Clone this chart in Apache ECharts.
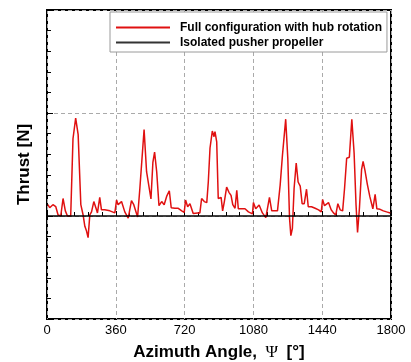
<!DOCTYPE html>
<html>
<head>
<meta charset="utf-8">
<script src="https://cdn.jsdelivr.net/npm/echarts@6/dist/echarts.min.js"></script>
<style>
html,body{margin:0;padding:0;background:#fff;}
#chart{width:411px;height:362px;}
</style>
</head>
<body>
<div id="chart"></div>
<script>
// Azimuth angle (deg) for the full configuration series
var fullAngle = [5,14,31,46,58,72,84,96,107,124,136,150,163,177,189,198,206,215,224,233,245,259,264,276,285,302,329,355,364,372,390,407,425,442,454,463,474,486,508,521,544,554,563,574,586,600,613,626,640,650,669,687,705,718,725,736,748,765,774,788,800,809,823,836,844,853,865,874,879,888,896,905,911,919,928,940,952,963,972,984,993,1001,1019,1036,1054,1075,1080,1092,1110,1127,1145,1164,1176,1194,1206,1220,1232,1249,1260,1269,1276,1284,1293,1304,1314,1325,1335,1346,1358,1367,1384,1403,1421,1435,1442,1452,1473,1487,1499,1511,1522,1534,1547,1557,1568,1582,1595,1607,1617,1625,1635,1646,1654,1664,1676,1689,1705,1717,1726,1743,1760,1777,1796];
// Thrust values (arbitrary units)
var fullThrust = [0.11,0.08,0.11,0.09,0.01,0.0,0.17,0.05,0.0,0.0,0.75,0.95,0.79,0.11,0.01,-0.10,-0.14,-0.21,0.01,0.04,0.14,0.06,0.03,0.18,0.06,0.06,0.05,0.03,0.155,0.11,0.14,0.04,-0.02,0.15,0.11,0.12,-0.01,0.27,0.84,0.43,0.165,0.52,0.62,0.43,0.1,0.14,0.11,0.19,0.245,0.08,0.075,0.075,0.05,0.035,0.155,0.09,0.12,0.025,0.04,0.03,0.03,0.17,0.14,0.13,0.33,0.66,0.825,0.77,0.82,0.72,0.17,0.155,0.18,0.05,0.14,0.28,0.23,0.2,0.11,0.075,0.25,0.07,0.07,0.07,0.04,0.02,0.13,0.07,0.107,0.03,-0.016,0.18,0.05,0.05,0.05,0.3,0.59,0.94,0.56,-0.02,-0.19,-0.12,0.27,0.515,0.33,0.29,0.12,0.12,0.26,0.09,0.09,0.075,0.06,0.04,0.16,0.1,0.13,0.06,0.03,0.01,0.12,0.06,0.05,0.27,0.56,0.57,0.94,0.61,0.11,-0.16,0.08,0.45,0.53,0.44,0.31,0.19,0.07,0.21,0.07,0.065,0.05,0.04,0.03];
// Isolated pusher propeller
var isoAngle = [0, 1800];
var isoThrust = [0, 0];
var seriesNames = ['Full configuration with hub rotation', 'Isolated pusher propeller'];
var xTicks = [0, 360, 720, 1080, 1440, 1800];

var fullData = fullAngle.map(function(a, i){ return [a, fullThrust[i]]; });
var isoData = isoAngle.map(function(a, i){ return [a, isoThrust[i]]; });

var chart = echarts.init(document.getElementById('chart'), null, {renderer:'canvas'});
chart.setOption({
  animation: false,
  backgroundColor: '#fff',
  textStyle: {fontFamily: 'Liberation Sans, Arial, sans-serif'},
  grid: {left: 47, right: 20, top: 10, bottom: 43, containLabel: false, outerBoundsMode: 'none', show: true, borderColor: '#000', borderWidth: 2, backgroundColor: 'transparent'},
  legend: {
    left: 110, top: 12,
    orient: 'vertical',
    backgroundColor: '#fff',
    borderColor: '#9a9a9a', borderWidth: 1, borderRadius: 0,
    padding: [8, 5, 2, 6],
    itemGap: 0,
    itemWidth: 54, itemHeight: 2,
    icon: 'rect',
    textStyle: {fontSize: 12, fontWeight: 'bold', color: '#000', lineHeight: 15, padding: [0,0,0,5], fontFamily: 'Liberation Sans, Arial, sans-serif'},
    data: seriesNames
  },
  xAxis: {
    type: 'value', min: 0, max: 1800, interval: 360,
    name: '{a|Azimuth Angle,}{p|  Ψ  }{a|[°]}',
    nameLocation: 'middle', nameGap: 25,
    nameTextStyle: {rich: {
      a: {fontSize: 17, fontWeight: 'bold', color: '#000', fontFamily: 'Liberation Sans, Arial, sans-serif'},
      p: {fontSize: 17, color: '#000', fontFamily: 'Liberation Serif, serif'}
    }},
    axisLine: {show: false},
    axisTick: {show: true, inside: true, length: 5, lineStyle: {color: '#000', width: 1}},
    minorTick: {show: true, splitNumber: 5, length: 4, lineStyle: {color: '#000', width: 1}},
    axisLabel: {fontSize: 13, color: '#000', margin: 5, formatter: function(v){ return xTicks.indexOf(v) >= 0 ? String(v) : ''; }},
    splitLine: {show: true, lineStyle: {color: '#aaa', type: [4, 3], width: 1}}
  },
  yAxis: {
    type: 'value', min: -1, max: 2, interval: 1,
    name: 'Thrust [N]',
    nameLocation: 'middle', nameGap: 14,
    nameTextStyle: {fontSize: 17, fontWeight: 'bold', color: '#000'},
    axisLine: {show: false},
    axisTick: {show: true, inside: true, length: 6, lineStyle: {color: '#000', width: 1}},
    minorTick: {show: true, splitNumber: 5, length: 4, lineStyle: {color: '#000', width: 1}},
    axisLabel: {show: false},
    splitLine: {show: true, lineStyle: {color: '#aaa', type: [4, 3], width: 1}}
  },
  series: [
    {name: seriesNames[0], type: 'line', data: fullData, symbol: 'none', lineStyle: {color: '#e01010', width: 1.5}, itemStyle: {color: '#e01010'}},
    {name: seriesNames[1], type: 'line', data: isoData, symbol: 'none', lineStyle: {color: '#000', width: 1.6}, itemStyle: {color: '#333'}}
  ]
});
</script>
</body>
</html>
